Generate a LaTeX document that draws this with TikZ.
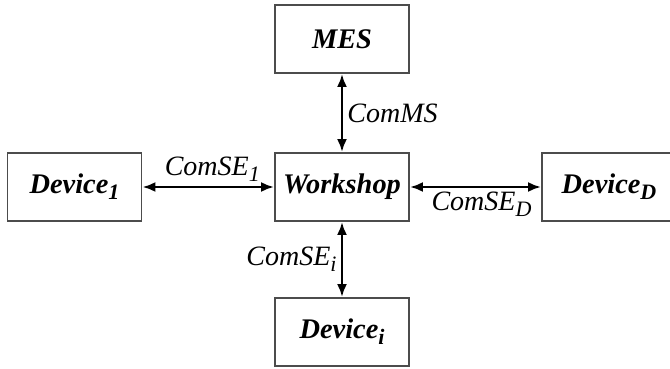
\documentclass[tikz,border=0pt]{standalone}
\usepackage{fontspec}
\setmainfont{Liberation Serif}
\usetikzlibrary{arrows.meta}
\newcommand\lowsub[1]{\raisebox{-0.45ex}{\fontsize{11}{13}\selectfont #1}}
\tikzset{
  unit/.style={draw=black!70, line width=0.9pt, minimum width=67pt, minimum height=34pt,
    inner sep=0pt, font=\fontsize{14.2}{17}\selectfont\bfseries\itshape},
  link/.style={line width=1.4pt, {Latex[length=6.5pt,width=5pt]}-{Latex[length=6.5pt,width=5pt]}},
  tag/.style={font=\fontsize{14}{17}\selectfont\itshape, inner sep=1pt}
}
\begin{document}
\begin{tikzpicture}[x=0.5pt,y=-0.5pt]
  \useasboundingbox (0,0) rectangle (670,369);
  % blocks
  \node[unit] (mes) at (342,39) {MES};
  \node[unit] (ws) at (342,187) {Workshop};
  \node[unit] (d1) at (74.5,187) {Device\lowsub{1}};
  \node[unit] (dd) at (609,187) {Device\lowsub{D}};
  \node[unit] (di) at (342,332) {Device\lowsub{i}};
  % communication links
  \draw[link] (mes) -- (ws) node[tag, midway, right, xshift=1pt] {ComMS};
  \draw[link] (d1) -- (ws) node[tag, midway, above, yshift=1pt, xshift=2pt] {ComSE\lowsub{1}};
  \draw[link] (ws) -- (dd) node[tag, midway, below, yshift=-1pt, xshift=3pt] {ComSE\lowsub{D}};
  \draw[link] (ws) -- (di) node[tag, midway, left, xshift=-1pt] {ComSE\lowsub{i}};
\end{tikzpicture}
\end{document}
